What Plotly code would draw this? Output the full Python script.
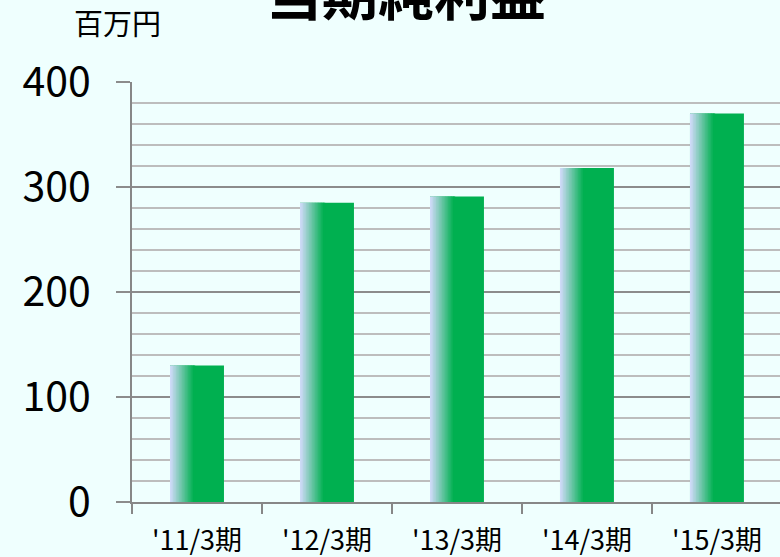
import plotly.graph_objects as go

categories = ["'11/3期", "'12/3期", "'13/3期", "'14/3期", "'15/3期"]
values = [130, 285, 291, 318, 370]
y_ticks = [0, 100, 200, 300, 400]
title_text = "当期純利益"
unit_text = "百万円"

BG = "#EFFFFE"
FONT = "Noto Sans CJK JP"
W = 0.415          # bar width (category units)
G = 0.45           # fraction of bar that carries the gradient
N = 16             # gradient slices
c0 = (206, 218, 247)
c1 = (0, 176, 80)

fig = go.Figure()
# solid green body
fig.add_trace(go.Bar(x=categories, y=values, width=W, offset=-W / 2,
                     marker=dict(color="#00B050", line=dict(width=0)),
                     hoverinfo="skip"))
# gradient slices on the left part of each bar
sw = W * G / N
for i in range(N):
    t = i / (N - 1)
    col = tuple(round(c0[k] + (c1[k] - c0[k]) * t) for k in range(3))
    fig.add_trace(go.Bar(x=categories, y=values, width=sw * 1.6,
                         offset=-W / 2 + i * sw,
                         marker=dict(color="rgb(%d,%d,%d)" % col, line=dict(width=0)),
                         hoverinfo="skip"))

fig.update_layout(
    width=780, height=557,
    margin=dict(l=132, r=0, t=82, b=55, autoexpand=False),
    paper_bgcolor=BG, plot_bgcolor=BG,
    barmode="overlay", showlegend=False,
    font=dict(family=FONT, color="#000000"),
)
fig.update_xaxes(
    type="category", range=[-0.5, 4.485],
    showline=True, linecolor="#878787", linewidth=2,
    ticks="outside", tickson="boundaries", ticklen=10, tickwidth=2, tickcolor="#878787",
    tickfont=dict(size=27, family=FONT), ticklabelstandoff=14,
    showgrid=False, zeroline=False,
)
fig.update_yaxes(
    range=[0, 400], tickvals=y_ticks,
    showline=True, linecolor="#878787", linewidth=2,
    ticks="outside", ticklen=14, tickwidth=2, tickcolor="#8c8c8c",
    tickfont=dict(size=41, family=FONT), ticklabelstandoff=17,
    showgrid=True, gridcolor="#8c8c8c", gridwidth=2,
    zeroline=False,
    minor=dict(dtick=20, showgrid=True, gridcolor="#bdbdbd", gridwidth=2, ticks=""),
)
fig.add_annotation(text="<b>" + title_text + "</b>", xref="paper", yref="paper",
                   x=0.4236, y=1.217, xanchor="center", yanchor="middle",
                   showarrow=False, font=dict(size=56, family=FONT, color="#000000"))
fig.add_annotation(text=unit_text, xref="paper", yref="paper",
                   x=-0.023, y=1.144, xanchor="center", yanchor="middle",
                   showarrow=False, font=dict(size=29, family=FONT, color="#000000"))

fig.write_html(
    "out.html",
    config={"displayModeBar": False},
    post_script="document.body.style.margin='0';document.body.style.overflow='hidden';"
                "document.body.style.background='" + BG + "';",
)
